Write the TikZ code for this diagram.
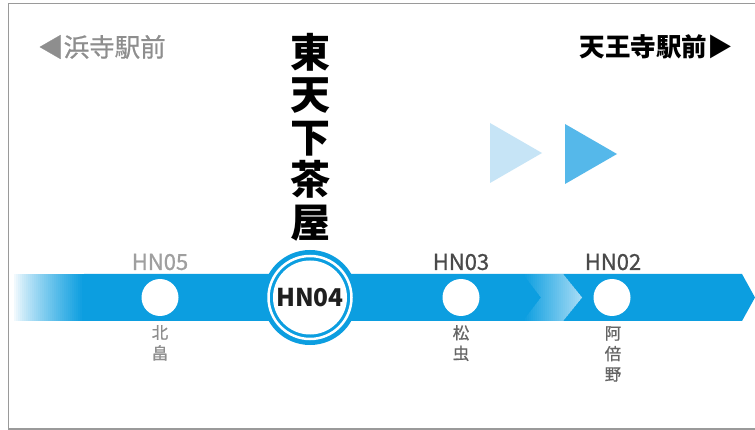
\documentclass[tikz,border=0pt]{standalone}
\usepackage{fontspec}
\setmainfont{Noto Sans CJK JP}
\newfontfamily\medfont[FakeBold=0.8]{Noto Sans CJK JP}
\definecolor{band}{HTML}{0C9EE0}
\definecolor{bandlight}{HTML}{A8DCF5}
\definecolor{framegray}{HTML}{9A9A9A}
\definecolor{fadedgray}{HTML}{8E8E8E}
\definecolor{darkgray}{HTML}{4A4A4A}
\definecolor{trilight}{HTML}{C6E4F6}
\definecolor{tridark}{HTML}{55B8EA}
\tikzset{
  stn/.style={circle, fill=white, minimum size=37pt, inner sep=0pt},
  code/.style={font=\medfont\fontsize{22}{24}\selectfont, inner sep=0pt},
  stname/.style={font=\medfont\fontsize{16.5}{20.5}\selectfont, align=center, inner sep=0pt, anchor=north},
  dirlabel/.style={font=\medfont\fontsize{25.5}{27}\selectfont, inner sep=0pt}
}
\begin{document}
\begin{tikzpicture}[x=1pt,y=-1pt]
\useasboundingbox (0,0) rectangle (755,430);
\fill[white] (0,0) rectangle (755,430);
\draw[framegray, line width=1.5pt] (755,3.5) -- (8.5,3.5) -- (8.5,429) -- (755,429);

% direction labels
\node[dirlabel, text=fadedgray, anchor=west] (left) at (38,47) {◀浜寺駅前};
\node[dirlabel, text=black, font=\fontsize{25.5}{27}\selectfont\bfseries, anchor=east] (right) at (733,47) {天王寺駅前▶};

% title
\node[font=\fontsize{40}{42.5}\selectfont\bfseries, align=center, inner sep=0pt] (title) at (310,137) {東\\天\\下\\茶\\屋};

% direction triangles
\fill[trilight] (490,123) -- (542,153) -- (490,183) -- cycle;
\fill[tridark] (565,124) -- (617,154) -- (565,184) -- cycle;

% line band
\fill[band] (84,274) -- (742,274) -- (755,297.5) -- (742,321) -- (84,321) -- cycle;
\foreach \i in {0,...,35} {
  \pgfmathsetmacro{\p}{min(100,100*(\i/35)^0.8)}
  \fill[band!\p!white] (12+2*\i,274) rectangle (14.6+2*\i,321);
}
\begin{scope}
  \clip (523,274) -- (563,274) -- (582,297.5) -- (563,321) -- (523,321) -- (541,297.5) -- cycle;
  \foreach \i in {0,...,29} {
    \pgfmathsetmacro{\p}{100*\i/29}
    \fill[bandlight!\p!band] (523+2*\i,274) rectangle (525.6+2*\i,321);
  }
\end{scope}

% stations
\node[stn] (hn05) at (160,297.5) {};
\node[stn] (hn03) at (461,297.5) {};
\node[stn] (hn02) at (612,297.5) {};
\node[circle, fill=band, minimum size=95pt, inner sep=0pt] (hn04ring) at (310,297.5) {};
\draw[white, line width=2.5pt] (hn04ring.center) circle (41.5pt);
\node[circle, fill=white, minimum size=74pt, inner sep=0pt, text=black!88, font=\fontsize{24.5}{26}\selectfont\bfseries] (hn04) at (hn04ring.center) {HN04};

% codes
\node[code, text=fadedgray!85] (c05) at (160,262) {HN05};
\node[code, text=darkgray] (c03) at (461,262) {HN03};
\node[code, text=darkgray] (c02) at (613,262) {HN02};

% names
\node[stname, text=fadedgray] (n05) at (160,325) {北\\畠};
\node[stname, text=darkgray!85] (n03) at (461,325) {松\\虫};
\node[stname, text=darkgray!85] (n02) at (613,326) {阿\\倍\\野};
\end{tikzpicture}
\end{document}
